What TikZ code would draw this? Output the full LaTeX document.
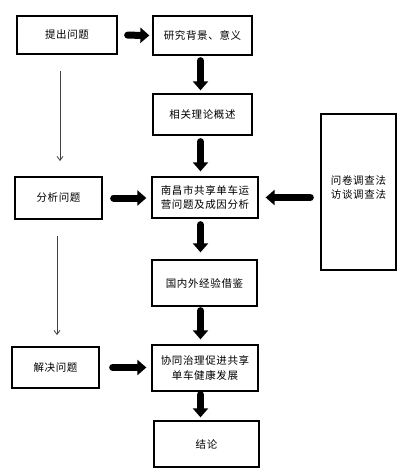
\documentclass[tikz,border=0pt]{standalone}
\usepackage{fontspec}
\newfontfamily\cjk[LetterSpace=6]{Noto Sans CJK SC}
\usetikzlibrary{arrows.meta}
\begin{document}
\begin{tikzpicture}[x=1pt,y=-1pt,
  box/.style={draw=black, line width=1.3pt, fill=white, inner sep=1pt, align=center,
    font=\cjk\fontsize{10.5}{14.5}\selectfont},
  bigarrow/.style={line width=7pt, line cap=round,
    -{Triangle[length=9pt 0 0,width=15pt 0 0]}},
  thinarrow/.style={line width=0.8pt, draw=black!75, -{Straight Barb[length=4pt 0 0,width=6pt 0 0]}}]
\useasboundingbox (0,0) rectangle (408,474);
\node[box, minimum width=100pt, minimum height=38pt] (tichu) at (67,35) {提出问题};
\node[box, minimum width=99pt, minimum height=39pt] (yanjiu) at (202.5,35.5) {研究背景、意义};
\node[box, minimum width=99pt, minimum height=41pt] (xiangguan) at (202.5,114.5) {相关理论概述};
\node[box, minimum width=87pt, minimum height=42pt] (fenxi) at (58.5,198) {分析问题};
\node[box, minimum width=106pt, minimum height=41pt] (nanchang) at (205,197.5) {南昌市共享单车运\\营问题及成因分析};
\node[box, minimum width=75pt, minimum height=156pt] (wenjuan) at (358.5,192) {问卷调查法\\访谈调查法\\[-4.5pt]};
\node[box, minimum width=105pt, minimum height=46pt] (guonei) at (204.5,283) {国内外经验借鉴};
\node[box, minimum width=87pt, minimum height=41pt] (jiejue) at (55.5,367.5) {解决问题};
\node[box, minimum width=106pt, minimum height=46pt] (xietong) at (205,368) {协同治理促进共享\\单车健康发展};
\node[box, minimum width=105pt, minimum height=46pt] (jielun) at (206.5,444) {结论};
% thick horizontal arrows
\draw[bigarrow, shorten <=10pt, shorten >=3pt] (tichu.east) -- (yanjiu.west);
\draw[bigarrow, shorten <=11pt, shorten >=5pt] (fenxi.east) -- (fenxi.east -| nanchang.west);
\draw[bigarrow, shorten <=10pt, shorten >=7pt] (wenjuan.west |- nanchang.east) -- (nanchang.east);
\draw[bigarrow, shorten <=13pt, shorten >=5pt] (jiejue.east) -- (jiejue.east -| xietong.west);
% thick vertical arrows
\draw[bigarrow, shorten <=5pt, shorten >=3pt] ([xshift=-2pt]yanjiu.south) -- ([xshift=-2pt]yanjiu.south |- xiangguan.north);
\draw[bigarrow, shorten <=6pt, shorten >=5pt] ([xshift=-2pt]xiangguan.south) -- ([xshift=-2pt]xiangguan.south |- nanchang.north);
\draw[bigarrow, shorten <=6pt, shorten >=7pt] ([xshift=-2pt]xiangguan.south |- nanchang.south) -- ([xshift=-2pt]xiangguan.south |- guonei.north);
\draw[bigarrow, shorten <=4pt, shorten >=5pt] ([xshift=-2pt]xiangguan.south |- guonei.south) -- ([xshift=-2pt]xiangguan.south |- xietong.north);
\draw[bigarrow, shorten <=3pt, shorten >=3pt] ([xshift=-2pt]xiangguan.south |- xietong.south) -- ([xshift=-2pt]xiangguan.south |- jielun.north);
% thin arrows
\coordinate (t1) at (60,71);
\coordinate (t2) at (60,161);
\coordinate (t3) at (57,236);
\coordinate (t4) at (57,335);
\draw[thinarrow] (t1) -- (t2);
\draw[thinarrow] (t3) -- (t4);
\end{tikzpicture}
\end{document}
